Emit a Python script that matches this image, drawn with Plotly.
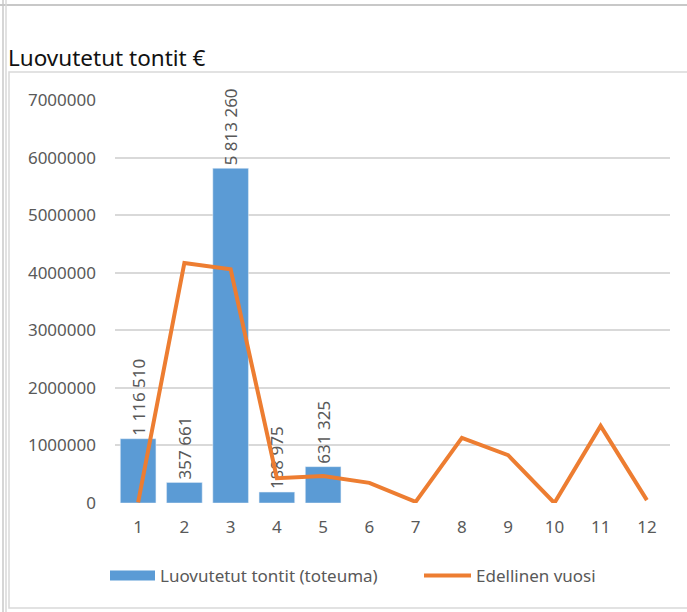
import plotly.graph_objects as go

months = list(range(1, 13))
toteuma = [1116510, 357661, 5813260, 188975, 631325, None, None, None, None, None, None, None]
edellinen = [10000, 4170000, 4060000, 430000, 470000, 350000, 20000, 1130000, 830000, 0, 1340000, 50000]
y_ticks = [0, 1000000, 2000000, 3000000, 4000000, 5000000, 6000000, 7000000]

BLUE = "#5B9BD5"
ORANGE = "#ED7D31"
GRAY_TXT = "#595959"
GRID = "#D9D9D9"
FONT = "Noto Sans"

W, H = 687, 612
L, R, T, B = 115, 17, 100, 109
PW, PH = W - L - R, H - T - B


def px_x(x):
    return (x - L) / PW


def px_y(y):
    return (H - B - y) / PH


labels = [f"{v:,}".replace(",", " ") if v is not None else "" for v in toteuma]

fig = go.Figure()
fig.add_trace(go.Bar(
    x=months, y=toteuma,
    name="Luovutetut tontit (toteuma)",
    marker_color=BLUE,
    text=labels,
    textposition="outside",
    textangle=-90,
    constraintext="none",
    textfont=dict(color=GRAY_TXT, size=17, family=FONT),
    cliponaxis=False,
    showlegend=False,
    legendgroup="bar",
))
# legend proxy so the bar entry shows as a wide block like the original
fig.add_trace(go.Scatter(
    x=[None], y=[None], mode="lines",
    name="Luovutetut tontit (toteuma)",
    line=dict(color=BLUE, width=10),
    legendgroup="bar",
    legend="legend",
))
fig.add_trace(go.Scatter(
    x=months, y=edellinen,
    name="Edellinen vuosi",
    mode="lines",
    line=dict(color=ORANGE, width=4),
    legend="legend2",
))

shapes = [
    # outer sheet borders
    dict(x0=px_x(0), x1=px_x(W), y0=px_y(5), y1=px_y(5), line=dict(color="#C8C8C8", width=2)),
    dict(x0=px_x(3), x1=px_x(3), y0=px_y(0), y1=px_y(H), line=dict(color="#C8C8C8", width=1.5)),
    dict(x0=px_x(6), x1=px_x(6), y0=px_y(0), y1=px_y(H), line=dict(color="#D8D8D8", width=1.5)),
    # chart box
    dict(x0=px_x(9), x1=px_x(W + 2), y0=px_y(72), y1=px_y(608), line=dict(color=GRID, width=1.5)),
]
for s in shapes:
    s.update(type="line" if s["x0"] == s["x1"] or s["y0"] == s["y1"] else "rect",
             xref="paper", yref="paper", layer="below")

legend_common = dict(
    orientation="h", xanchor="left", yanchor="middle",
    font=dict(size=17, color=GRAY_TXT, family=FONT),
    bgcolor="rgba(0,0,0,0)",
)

fig.update_layout(
    width=W, height=H,
    margin=dict(l=L, r=R, t=T, b=B),
    plot_bgcolor="white",
    paper_bgcolor="white",
    font=dict(family=FONT, size=17, color=GRAY_TXT),
    bargap=0.23,
    shapes=shapes,
    annotations=[dict(
        text="Luovutetut tontit €", x=px_x(6), y=px_y(58),
        xref="paper", yref="paper", xanchor="left", yanchor="middle",
        showarrow=False, font=dict(size=22.5, color="#111111", family=FONT),
    )],
    legend=dict(x=px_x(105), y=px_y(576), itemwidth=45, **legend_common),
    legend2=dict(x=px_x(419), y=px_y(576), itemwidth=47, **legend_common),
)
fig.update_xaxes(
    range=[0.5, 12.5], tickvals=months, showgrid=False, zeroline=False,
    showline=False, ticklabelstandoff=12, tickfont=dict(size=17),
)
fig.update_yaxes(
    range=[0, 7000000], tickvals=y_ticks, tickformat="d",
    showgrid=True, gridcolor=GRID, gridwidth=1.5, zeroline=False,
    showline=False, ticklabelstandoff=18, tickfont=dict(size=17),
)

fig.write_html("out.html", config={"displayModeBar": False},
               post_script="document.body.style.margin='0';")
